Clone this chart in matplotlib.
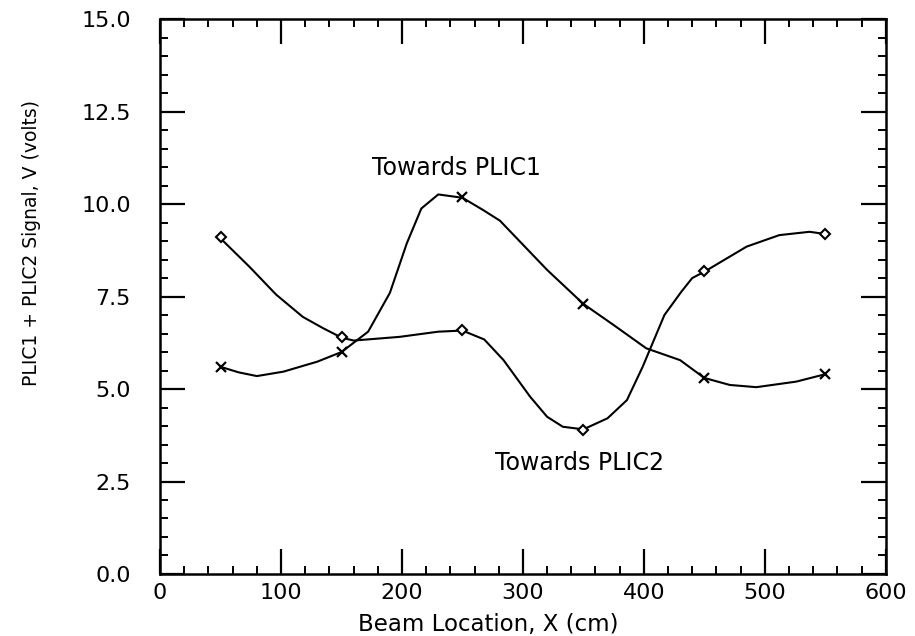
import numpy as np
import matplotlib.pyplot as plt
from matplotlib.ticker import MultipleLocator, FormatStrFormatter

# measured points
beam_x = [50, 150, 250, 350, 450, 550]
plic1_v = [5.6, 6.0, 10.2, 7.3, 5.3, 5.4]     # crosses, "Towards PLIC1"
plic2_v = [9.1, 6.4, 6.6, 3.9, 8.2, 9.2]      # diamonds, "Towards PLIC2"

# smooth curves
plic1_curve_x = [50, 65, 80, 102, 130, 150, 172, 190, 204, 216, 230, 250, 267, 281,
                 320, 350, 375, 402, 430, 450, 471, 493, 526, 550]
plic1_curve_v = [5.60, 5.45, 5.35, 5.47, 5.74, 6.00, 6.55, 7.60, 8.94, 9.88, 10.26, 10.17,
                 9.84, 9.55, 8.22, 7.30, 6.73, 6.10, 5.78, 5.30, 5.11, 5.05, 5.20, 5.40]
plic2_curve_x = [50, 74, 96, 118, 135, 150, 160, 198, 230, 250, 268, 284, 306, 320,
                 333, 350, 370, 386, 399, 417, 431, 440, 450, 485, 512, 537, 550]
plic2_curve_v = [9.07, 8.30, 7.55, 6.95, 6.64, 6.39, 6.31, 6.41, 6.55, 6.58, 6.34, 5.78,
                 4.79, 4.25, 3.98, 3.91, 4.21, 4.70, 5.60, 7.00, 7.63, 8.00, 8.17, 8.85,
                 9.16, 9.25, 9.19]

plt.rcParams['font.family'] = ['DejaVu Sans']

fig = plt.figure(figsize=(9.15, 6.36), dpi=100)
ax = fig.add_axes([0.175, 0.0975, 0.793, 0.8725])

ax.plot(plic1_curve_x, plic1_curve_v, color='black', lw=1.5)
ax.plot(plic2_curve_x, plic2_curve_v, color='black', lw=1.5)
ax.plot(beam_x, plic1_v, ls='none', marker='x', ms=7.5, mew=1.6, color='black')
ax.plot(beam_x, plic2_v, ls='none', marker='D', ms=5.5, mew=1.5,
        mfc='white', mec='black')

ax.text(175, 10.97, 'Towards PLIC1', fontsize=17, va='center', ha='left')
ax.text(277, 3.0, 'Towards PLIC2', fontsize=17, va='center', ha='left')

ax.set_xlim(0, 600)
ax.set_ylim(0, 15)
ax.xaxis.set_major_locator(MultipleLocator(100))
ax.xaxis.set_minor_locator(MultipleLocator(20))
ax.yaxis.set_major_locator(MultipleLocator(2.5))
ax.yaxis.set_minor_locator(MultipleLocator(0.5))
ax.yaxis.set_major_formatter(FormatStrFormatter('%.1f'))

ax.tick_params(which='both', direction='in', top=True, right=True, color='black')
ax.tick_params(which='major', length=18, width=1.6, labelsize=16)
ax.tick_params(axis='x', which='major', pad=6.5)
ax.tick_params(axis='y', which='major', pad=21)
ax.tick_params(which='minor', length=6, width=1.4)
for s in ax.spines.values():
    s.set_linewidth(1.8)

ax.set_xlabel('Beam Location, X (cm)', fontsize=16.5)
ax.set_ylabel('PLIC1 + PLIC2 Signal, V (volts)', fontsize=13.5)
ax.xaxis.set_label_coords(0.452, -0.07)
ax.yaxis.set_label_coords(-0.164, 0.596)

fig.savefig('out.png', dpi=100)
